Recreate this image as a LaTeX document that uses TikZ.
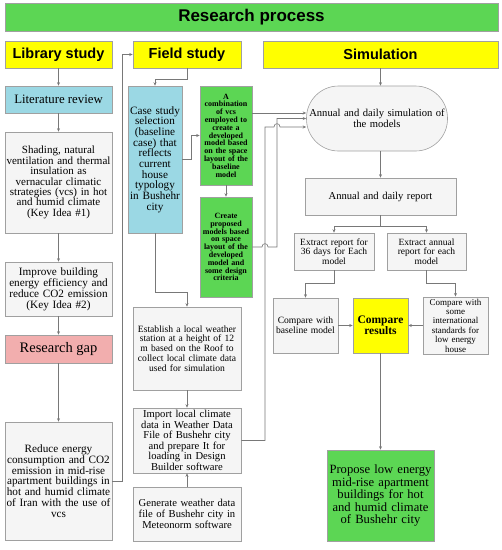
\documentclass[tikz,border=0pt]{standalone}
\usepackage{fontspec}
\setmainfont{Liberation Serif}
\newfontfamily\headfont{Liberation Sans}
\usetikzlibrary{arrows.meta}

\definecolor{titlegreen}{RGB}{92,214,84}
\definecolor{caseblue}{RGB}{155,216,228}
\definecolor{gappink}{RGB}{242,174,174}
\definecolor{headyellow}{RGB}{255,255,0}
\definecolor{edgegray}{RGB}{160,160,160}
\definecolor{linegray}{RGB}{120,120,120}

\begin{document}
\begin{tikzpicture}[x=1pt,y=-1pt,
    box/.style={draw=edgegray, line width=0.6pt, fill=gray!8, align=center, inner xsep=0.5pt, inner ysep=2pt},
    head/.style={box, fill=headyellow, font=\headfont\bfseries\fontsize{14.5}{16}\selectfont, minimum height=27pt},
    bluebox/.style={box, fill=caseblue},
    greenbox/.style={box, fill=titlegreen, font=\bfseries\fontsize{8}{7.8}\selectfont},
    line/.style={draw=linegray, line width=0.6pt},
    arrow/.style={line, -{Stealth[length=3.5pt,width=3pt]}}
    ]
    \useasboundingbox (0,0) rectangle (502,550);

    % headings
    \node[box, fill=titlegreen, minimum width=493pt, minimum height=28pt,
      font=\headfont\bfseries\fontsize{17}{19}\selectfont] (title) at (251.5,17) {Research process};
    \node[head, minimum width=107pt] (lib) at (58.5,54.5) {Library study};
    \node[head, minimum width=108pt] (field) at (187,54.5) {Field study};
    \node[head, minimum width=235pt] (sim) at (380.5,54.5) {Simulation};

    % library study
    \node[bluebox, minimum width=107pt, minimum height=27pt, font=\fontsize{12.8}{14}\selectfont]
      (litrev) at (58.5,99.5) {Literature review};
    \node[box, text width=106pt, minimum height=101pt, font=\fontsize{11}{10.4}\selectfont]
      (shading) at (58.5,182.5) {Shading, natural\\ventilation and thermal\\insulation as\\vernacular climatic\\strategies (vcs) in hot\\and humid climate\\(Key Idea \#1)};
    \node[box, text width=106pt, minimum height=54pt, font=\fontsize{11.2}{11}\selectfont]
      (improve) at (58.5,289) {Improve building\\energy efficiency and\\reduce CO2 emission\\(Key Idea \#2)};
    \node[box, fill=gappink, minimum width=107pt, minimum height=28pt, font=\fontsize{14.5}{15}\selectfont]
      (gap) at (58.5,349) {Research gap};
    \node[box, text width=106pt, minimum height=118pt, font=\fontsize{11.2}{10.8}\selectfont]
      (reduce) at (58.5,481) {Reduce energy\\consumption and CO2\\emission in mid-rise\\apartment buildings in\\hot and humid climate\\of Iran with the use of\\vcs};

    % field study
    \node[bluebox, text width=53pt, minimum height=147pt, font=\fontsize{11.2}{10.7}\selectfont]
      (case) at (155,159.5) {Case study\\selection\\(baseline\\case) that\\reflects\\current\\house\\typology\\in Bushehr\\city\\[6pt]};
    \node[greenbox, text width=51pt, minimum height=99pt]
      (comb) at (226,135.5) {A\\combination\\of vcs\\employed to\\create a\\developed\\model based\\on the space\\layout of the\\baseline\\model};
    \node[greenbox, text width=51pt, minimum height=100pt]
      (create) at (226,247) {Create\\proposed\\models based\\on space\\layout of the\\developed\\model and\\some design\\criteria};
    \node[box, text width=107pt, minimum height=83pt, font=\fontsize{9.6}{9.8}\selectfont]
      (establish) at (187,348.5) {Establish a local weather\\station at a height of 12\\m based on the Roof to\\collect local climate data\\used for simulation};
    \node[box, text width=107pt, minimum height=65pt, font=\fontsize{10.6}{10.5}\selectfont]
      (import) at (187,440.5) {Import local climate\\data in Weather Data\\File of Bushehr city\\and prepare It for\\loading in Design\\Builder software};
    \node[box, text width=107pt, minimum height=54pt, font=\fontsize{10.6}{11}\selectfont]
      (generate) at (187,514) {Generate weather data\\file of Bushehr city in\\Meteonorm software};

    % simulation
    \node[box, rounded corners=32pt, text width=140pt, minimum height=65pt, font=\fontsize{10.6}{10.5}\selectfont]
      (simul) at (377,118.5) {Annual and daily simulation of\\the models};
    \node[box, text width=150pt, minimum height=37pt, font=\fontsize{10.6}{11}\selectfont]
      (report) at (380.5,196.5) {Annual and daily report};
    \node[box, text width=79pt, minimum height=37pt, font=\fontsize{9.5}{9.3}\selectfont]
      (ext36) at (334,251.5) {Extract report for\\36 days for Each\\model};
    \node[box, text width=78pt, minimum height=37pt, font=\fontsize{9.5}{9.3}\selectfont]
      (extann) at (426.5,251.5) {Extract annual\\report for each\\model};
    \node[box, text width=64pt, minimum height=55pt, font=\fontsize{9.6}{10}\selectfont]
      (cmpbase) at (305.5,325.5) {Compare with\\baseline model};
    \node[box, fill=headyellow, text width=54pt, minimum height=55pt, font=\bfseries\fontsize{11.5}{11.5}\selectfont]
      (results) at (380.5,325.5) {Compare\\results};
    \node[box, text width=64pt, minimum height=55pt, font=\fontsize{9}{9.4}\selectfont]
      (cmpintl) at (455.5,325.5) {Compare with\\some\\international\\standards for\\low energy\\house};
    \node[box, fill=titlegreen, text width=106pt, minimum height=91pt, font=\fontsize{12.6}{12.5}\selectfont]
      (propose) at (380.5,495.5) {Propose low energy\\mid-rise apartment\\buildings for hot\\and humid climate\\of Bushehr city};

    % connectors, library study
    \draw[arrow] (lib) -- (litrev);
    \draw[arrow] (litrev) -- (shading);
    \draw[arrow] (shading) -- (improve);
    \draw[arrow] (improve) -- (gap);
    \draw[arrow] (gap) -- (reduce);
    \draw[arrow] (reduce.east) -- (122,481) |- (field.west);

    % connectors, field study
    \draw[arrow] (field.south) -- ++(0,11) -| (case.north);
    \draw[arrow] (case.east) -- ++(9,0) |- (comb.west);
    \draw[arrow] (comb) -- (create);
    \draw[arrow] ([yshift=22.5pt]comb.east) -- ([yshift=22.5pt]comb.east -| simul.west);
    \draw[arrow] (create.east) -- (262,247) .. controls (262,242.5) and (268,242.5) .. (268,247)
      -- (277,247) -- (277,118.5) -- (simul.west);
    \draw[arrow] (import.east) -- (265,440.5) -- (265,127) -- (274,127)
      .. controls (274,122.5) and (280,122.5) .. (280,127) -- (simul.west |- 0,127);
    \draw[arrow] (case.south) -- ++(0,59) -| (establish.north);
    \draw[arrow] (establish) -- (import);
    \draw[arrow] (generate) -- (import);

    % connectors, simulation
    \draw[arrow] (sim.south) -- (sim.south |- simul.north);
    \draw[arrow] (report.north |- simul.south) -- (report.north);
    \draw[arrow] (report.south) -- ++(0,11) -| (ext36.north);
    \draw[arrow] (report.south) -- ++(0,11) -| (extann.north);
    \draw[arrow] (ext36.south) -- ++(0,13) -| (cmpbase.north);
    \draw[arrow] (extann.south) -- ++(0,13) -| (cmpintl.north);
    \draw[arrow] (cmpbase) -- (results);
    \draw[arrow] (cmpintl) -- (results);
    \draw[arrow] (results) -- (propose);
  \end{tikzpicture}
\end{document}
